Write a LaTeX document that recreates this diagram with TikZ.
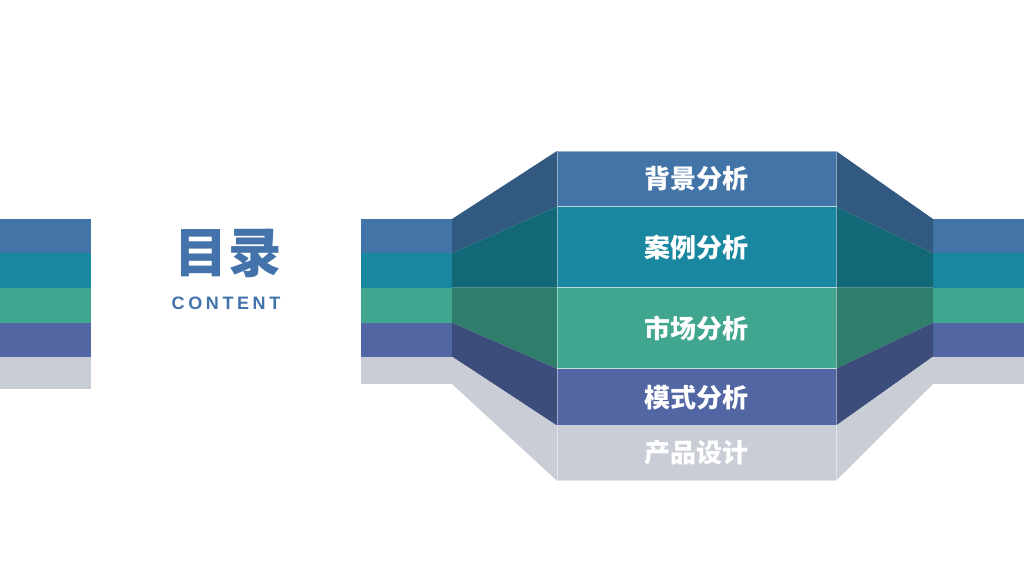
\documentclass[tikz,border=0pt]{standalone}
\usepackage{fontspec}
\setmainfont{Liberation Sans}
\newfontfamily\cjk{Noto Sans CJK SC}
\usepackage{tikz}
\usetikzlibrary{positioning}
\usepackage{xcolor}
\definecolor{cblue}{HTML}{4374A8}
\definecolor{cteal}{HTML}{1987A0}
\definecolor{cgreen}{HTML}{41A68F}
\definecolor{cpurple}{HTML}{5166A2}
\definecolor{cgray}{HTML}{C9CDD6}
\definecolor{dblue}{HTML}{325A80}
\definecolor{dteal}{HTML}{136877}
\definecolor{dgreen}{HTML}{2F7E6C}
\definecolor{dpurple}{HTML}{3D4D7B}
\definecolor{ctitle}{HTML}{4373AA}
\tikzset{
  rowbox/.style = {draw=white, draw opacity=0.45, line width=0.5pt},
  item/.style   = {text=white, inner sep=0pt,
                   font=\cjk\bfseries\fontsize{19.5}{22}\selectfont},
  headline/.style = {text=ctitle, inner sep=0pt},
}

\begin{document}
\begin{tikzpicture}[x=0.75pt,y=-0.75pt]
\fill[white] (0,0) rectangle (1024,576);
\useasboundingbox (0,0) rectangle (1024,576);
% left stub
\foreach \c/\t/\b in {cblue/219/253.3, cteal/253.3/287.7, cgreen/287.7/322.7, cpurple/322.7/356.7}
  \fill[\c] (0,\t) rectangle (91,\b);
\fill[cgray] (0,356.7) rectangle (91,389);
% side bands
\foreach \xa/\xb in {361/452, 933/1024} {
  \foreach \c/\t/\b in {cblue/219/253.3, cteal/253.3/287.7, cgreen/287.7/322.7, cpurple/322.7/356.7}
    \fill[\c] (\xa,\t) rectangle (\xb,\b);
  \fill[cgray] (\xa,356.7) rectangle (\xb,384);
}
% funnels
\foreach \xo/\xi in {452/557, 933/836} {
  \foreach \c/\ot/\ob/\it/\ib in {dblue/219/253.3/151/206.7, dteal/253.3/287.7/206.7/287.7,
      dgreen/287.7/322.7/287.7/368.7, dpurple/322.7/356.7/368.7/425.7, cgray/356.7/384/425.7/480.7}
    \fill[\c] (\xo,\ot) -- (\xi,\it) -- (\xi,\ib) -- (\xo,\ob) -- cycle;
}
% centre column
\foreach \c/\t/\b/\txt [count=\i] in {cblue/151/206.7/背景分析, cteal/206.7/287.7/案例分析,
    cgreen/287.7/368.7/市场分析, cpurple/368.7/425.7/模式分析, cgray/425.7/480.7/产品设计} {
  \fill[\c] (557,\t) rectangle (836,\b);
  \draw[rowbox] (557,\t) rectangle (836,\b);
  \node[item] (row\i) at (696.5,{(\t+\b)/2}) {\txt};
}
% title
\node[headline, font=\cjk\bfseries\fontsize{40}{44}\selectfont] (title) at (228,253) {目录};
\node[headline, font=\bfseries\fontsize{13.5}{15}\selectfont\addfontfeature{LetterSpace=20}] (content) at (226,303) {CONTENT};
\end{tikzpicture}
\end{document}
